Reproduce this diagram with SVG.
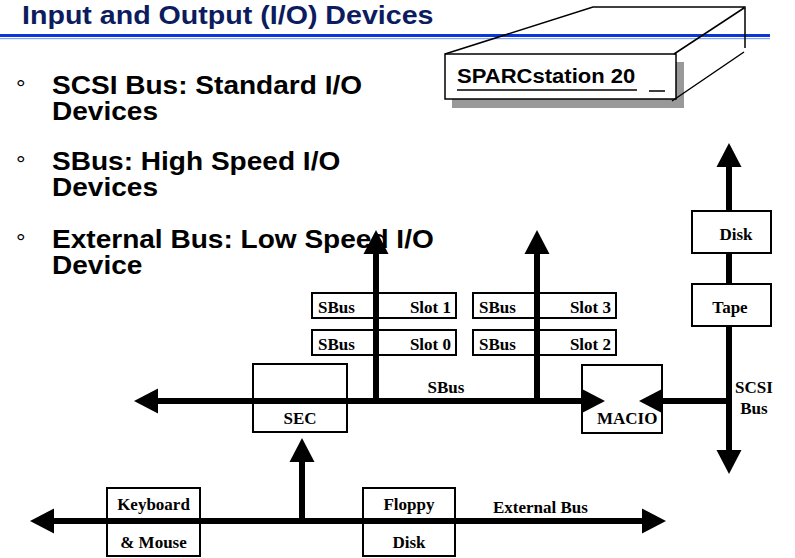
<svg xmlns="http://www.w3.org/2000/svg" width="795" height="558" viewBox="0 0 795 558">
  <defs>
    <style>
      .title { font-family: "Liberation Sans", Arial, sans-serif; font-weight: bold; font-size: 26px; fill: #0c1c5e; }
      .bullet { font-family: "Liberation Sans", Arial, sans-serif; font-weight: bold; font-size: 25.5px; fill: #000; }
      .mark { font-family: "Liberation Sans", Arial, sans-serif; font-size: 24px; fill: #000; }
      .lbl { font-family: "Liberation Serif", "Times New Roman", serif; font-weight: bold; font-size: 17px; fill: #000; }
      .box { fill: #fff; stroke: #000; stroke-width: 2; }
      .bus { fill: none; stroke: #000; stroke-width: 6; }
      .thin { fill: none; stroke: #000; stroke-width: 1.5; }
    </style>
    <marker id="ah" viewBox="0 -13 24 26" refX="1" refY="0" markerWidth="24" markerHeight="26" markerUnits="userSpaceOnUse" orient="auto-start-reverse">
      <path d="M0,-12.5 L24,0 L0,12.5 z" fill="#000"/>
    </marker>
  </defs>

  <rect width="795" height="558" fill="#fff"/>

  <!-- heading and rule -->
  <g id="heading">
    <text class="title" transform="translate(22,24) scale(1.1,1)">Input and Output (I/O) Devices</text>
    <rect x="0" y="34" width="770" height="3" fill="#0a38d8"/>
    <rect x="0" y="38" width="770" height="1.2" fill="#86a6ec"/>
  </g>

  <!-- bullet list -->
  <g id="bullets">
    <text class="mark" x="16" y="96">°</text>
    <text class="bullet" transform="translate(52,94) scale(1.1,1)">SCSI Bus: Standard I/O</text>
    <text class="bullet" transform="translate(52,120) scale(1.1,1)">Devices</text>
    <text class="mark" x="16" y="172">°</text>
    <text class="bullet" transform="translate(52,170) scale(1.1,1)">SBus: High Speed I/O</text>
    <text class="bullet" transform="translate(52,196) scale(1.1,1)">Devices</text>
    <text class="mark" x="16" y="250">°</text>
    <text class="bullet" transform="translate(52,248) scale(1.1,1)">External Bus: Low Speed I/O</text>
    <text class="bullet" transform="translate(52,274) scale(1.1,1)">Device</text>
  </g>

  <!-- workstation drawn as a flat box -->
  <g id="sparcstation">
    <rect x="452" y="62" width="232" height="46" fill="#999"/>
    <rect x="445" y="54" width="231" height="45" fill="#fff" stroke="#000" stroke-width="1.5"/>
    <path class="thin" d="M445,54 L593,7 H745 V48 M674,54 L744,8 M672,101 L744,52"/>
    <text class="bullet" style="font-size:19.5px" transform="translate(457,83) scale(1.13,1)">SPARCstation 20</text>
    <path class="thin" d="M457,90 H637 M649,91 H665"/>
  </g>

  <!-- boxes that buses run across -->
  <g id="sec"><rect class="box" x="253" y="364" width="94" height="68"/><text class="lbl" x="300" y="424" text-anchor="middle">SEC</text></g>
  <g id="slot1"><rect class="box" x="312" y="293" width="144" height="25"/><text class="lbl" x="318" y="313">SBus</text><text class="lbl" x="451" y="313" text-anchor="end">Slot 1</text></g>
  <g id="slot0"><rect class="box" x="312" y="330" width="144" height="25"/><text class="lbl" x="318" y="350">SBus</text><text class="lbl" x="451" y="350" text-anchor="end">Slot 0</text></g>
  <g id="slot3"><rect class="box" x="473" y="293" width="143" height="25"/><text class="lbl" x="479" y="313">SBus</text><text class="lbl" x="611" y="313" text-anchor="end">Slot 3</text></g>
  <g id="slot2"><rect class="box" x="473" y="330" width="143" height="25"/><text class="lbl" x="479" y="350">SBus</text><text class="lbl" x="611" y="350" text-anchor="end">Slot 2</text></g>
  <g id="keyboard"><rect class="box" x="107" y="488" width="93" height="68"/><text class="lbl" x="153.5" y="510" text-anchor="middle">Keyboard</text><text class="lbl" x="153.5" y="548" text-anchor="middle">&amp; Mouse</text></g>
  <g id="floppy"><rect class="box" x="363" y="488" width="92" height="68"/><text class="lbl" x="409" y="510" text-anchor="middle">Floppy</text><text class="lbl" x="409" y="548" text-anchor="middle">Disk</text></g>
  <g id="macio"><rect class="box" x="582" y="365" width="80" height="68"/><text class="lbl" x="597" y="424">MACIO</text></g>

  <!-- buses and links -->
  <g id="connectors">
    <path class="bus" d="M157,401 H582" marker-start="url(#ah)" marker-end="url(#ah)"/>
    <path class="bus" d="M376,401 V253" marker-end="url(#ah)"/>
    <path class="bus" d="M537,401 V253" marker-end="url(#ah)"/>
    <path class="bus" d="M729,401 H662" marker-end="url(#ah)"/>
    <path class="bus" d="M729,166 V451" marker-start="url(#ah)" marker-end="url(#ah)"/>
    <path class="bus" d="M302,521 V461" marker-end="url(#ah)"/>
    <path class="bus" d="M53,521 H643" marker-start="url(#ah)" marker-end="url(#ah)"/>
    <text class="lbl" x="446" y="393" text-anchor="middle">SBus</text>
    <text class="lbl" x="754" y="393" text-anchor="middle">SCSI</text>
    <text class="lbl" x="754" y="414" text-anchor="middle">Bus</text>
    <text class="lbl" x="493" y="513">External Bus</text>
  </g>

  <!-- devices on the SCSI bus -->
  <g id="disk"><rect class="box" x="692" y="211" width="79" height="42"/><text class="lbl" x="736" y="240" text-anchor="middle">Disk</text></g>
  <g id="tape"><rect class="box" x="692" y="284" width="79" height="42"/><text class="lbl" x="730" y="313" text-anchor="middle">Tape</text></g>
</svg>
